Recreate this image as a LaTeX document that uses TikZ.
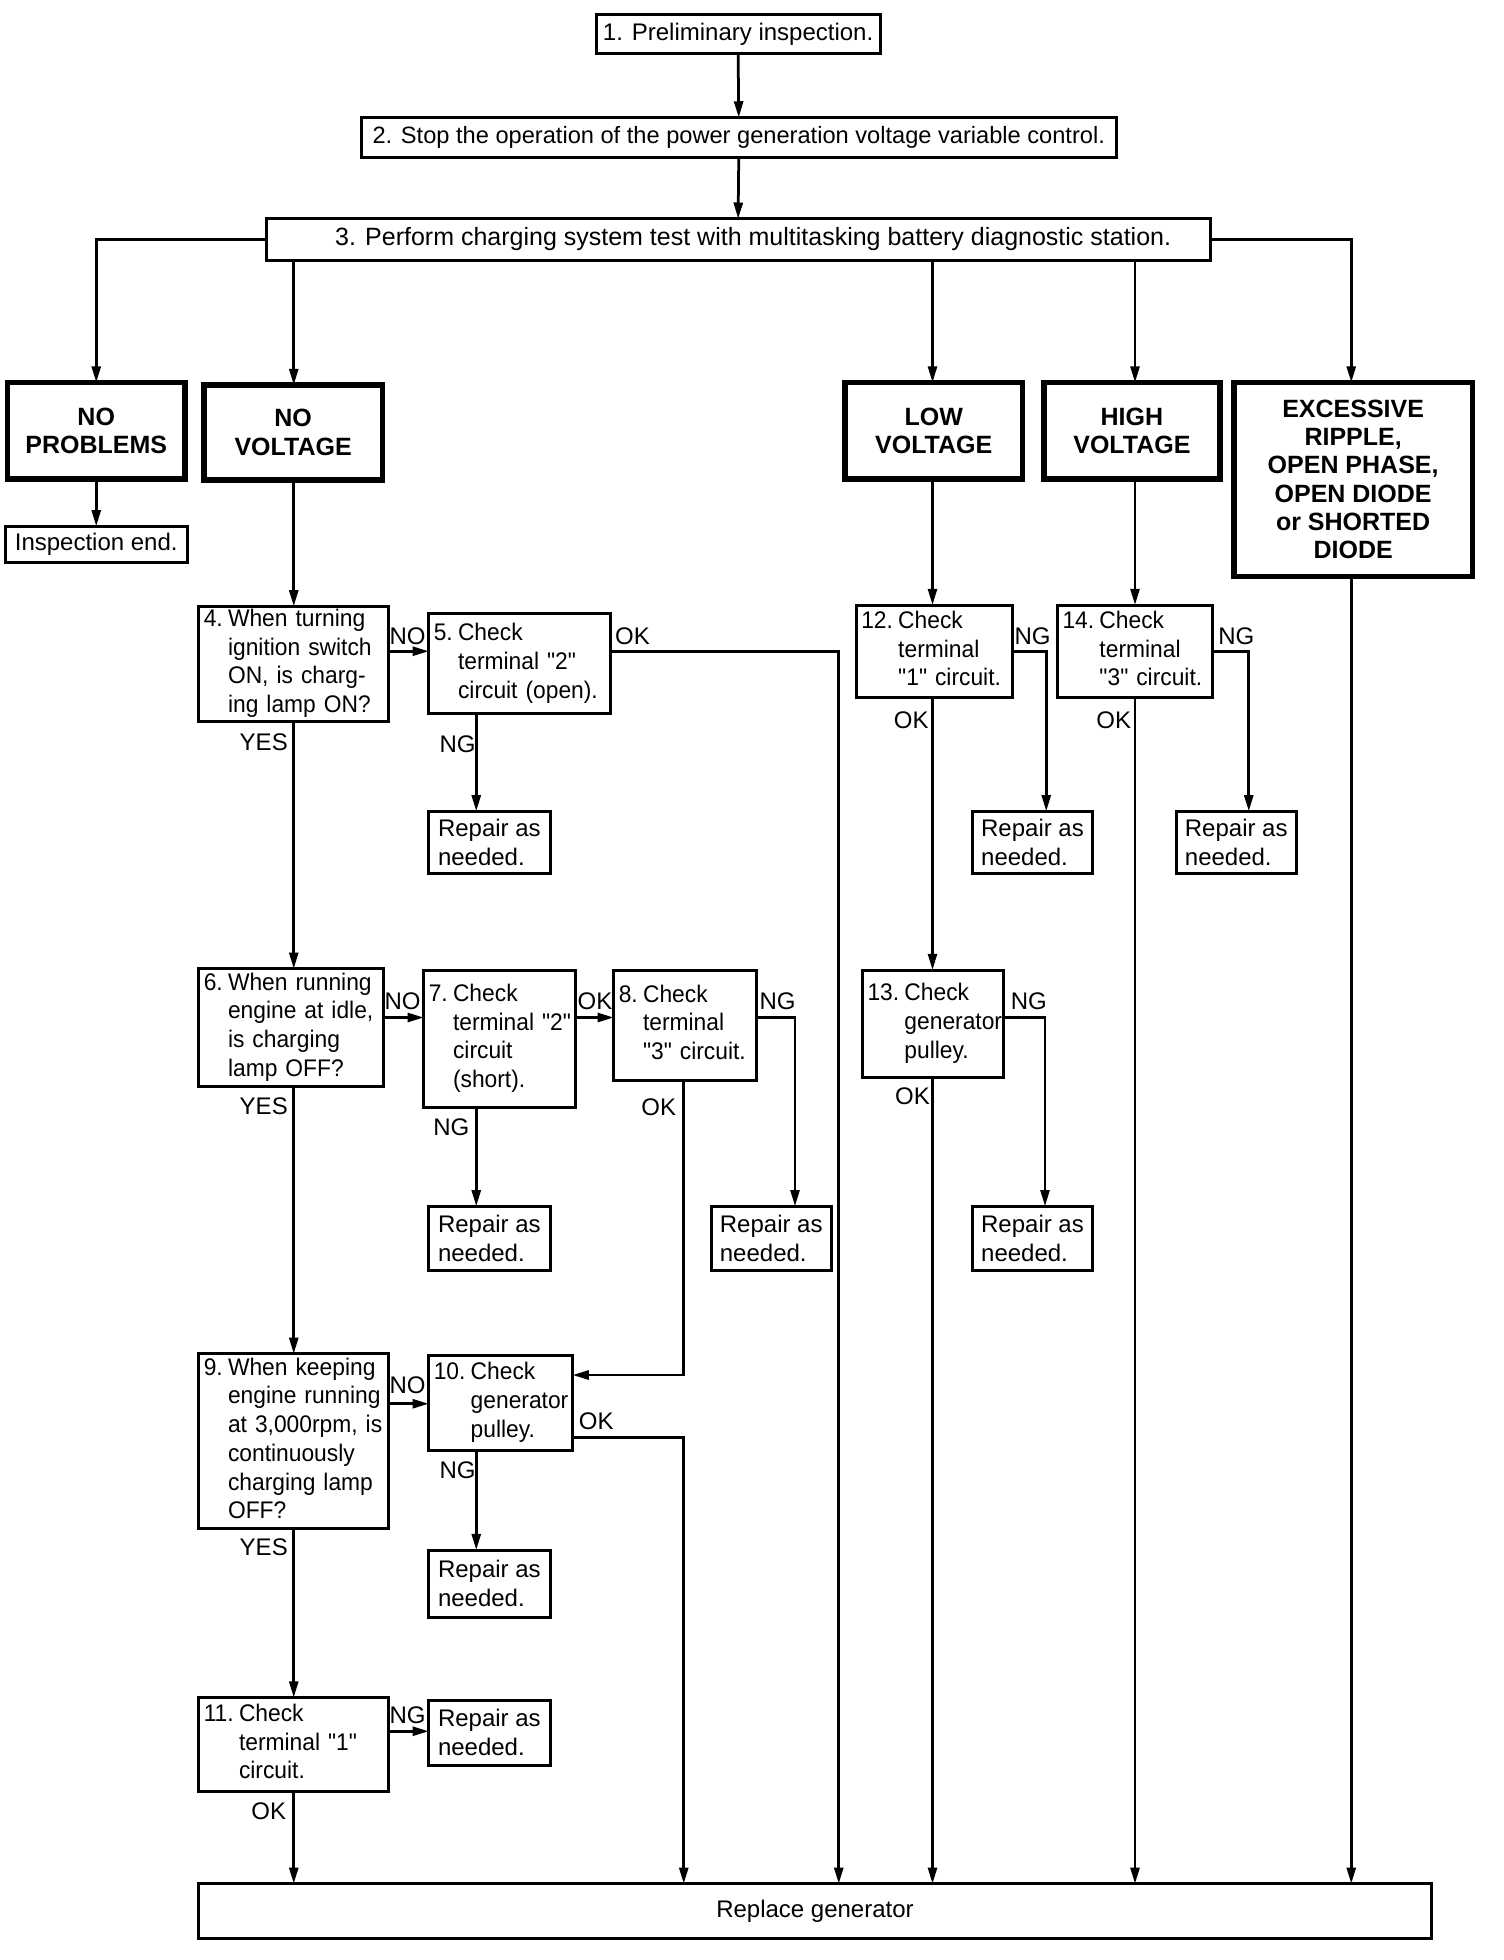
\documentclass[tikz,border=0pt]{standalone}
\usepackage{fontspec}
\setmainfont{Liberation Sans}[Ligatures=TeXOff]
\newfontfamily\narrowfont{Liberation Sans}[Ligatures=TeXOff,FakeStretch=0.95]
\usetikzlibrary{arrows.meta}
\newcommand{\numbered}[2]{\begin{tabular}{@{}l@{\hspace{0.22em}}l@{}}#1&\begin{tabular}[t]{@{}l@{}}#2\end{tabular}\end{tabular}}

\begin{document}
\begin{tikzpicture}[x=0.5pt,y=-0.5pt,
    every node/.style={font=\fontsize{9.6}{11.5}\selectfont},
    topbox/.style={draw,line width=1.2pt,anchor=north west,inner sep=0pt,outer sep=0pt},
    catbox/.style={draw,line width=2.2pt,anchor=north west,align=center,inner sep=0pt,outer sep=0pt,font=\fontsize{10}{11.3}\selectfont\bfseries},
    stepbox/.style={draw,line width=1.2pt,anchor=north west,align=left,inner xsep=2pt,inner ysep=0pt,outer sep=0pt,font=\fontsize{9.6}{11.5}\narrowfont},
    repairbox/.style={draw,line width=1.2pt,anchor=north west,align=left,inner sep=0pt,outer sep=0pt,minimum width=48.5pt},
    lbl/.style={inner sep=0pt},
    flow/.style={line width=1.1pt,-{Triangle[length=6.5pt,width=3.6pt]}}]
  \fill[white] (0,0) rectangle (1203,1568);
  \useasboundingbox (0,0) rectangle (1203,1568);

  % first steps
  \node[topbox,minimum width=113.5pt,minimum height=15.5pt] (s1) at (477,12) {1. Preliminary inspection.};
  \node[topbox,minimum width=302pt,minimum height=16pt,font=\fontsize{9.45}{11.5}\selectfont] (s2) at (289,94) {2. Stop the operation of the power generation voltage variable control.};
  \node[topbox,minimum width=377.5pt,minimum height=16.5pt,font=\fontsize{10}{12}\selectfont] (s3) at (213,175) {\hspace{12pt}3. Perform charging system test with multitasking battery diagnostic station.};

  % test results
  \node[catbox,minimum width=71pt,minimum height=38.5pt] (noprob) at (6,306) {NO\\PROBLEMS};
  \node[catbox,minimum width=71.5pt,minimum height=38pt] (novolt) at (163,308) {NO\\VOLTAGE};
  \node[catbox,minimum width=71pt,minimum height=38.5pt] (lowvolt) at (676,306) {LOW\\VOLTAGE};
  \node[catbox,minimum width=70.5pt,minimum height=38.5pt] (highvolt) at (835,306) {HIGH\\VOLTAGE};
  \node[catbox,minimum width=95.5pt,minimum height=77.5pt] (excess) at (987,306) {EXCESSIVE\\RIPPLE,\\OPEN PHASE,\\OPEN DIODE\\or SHORTED\\DIODE};
  \node[topbox,minimum width=73pt,minimum height=14.5pt] (inspend) at (4,421) {Inspection end.};

  % NO VOLTAGE branch
  \node[stepbox,text width=72pt,minimum height=46pt] (s4) at (159,485) {\numbered{4.}{When turning\\ignition switch\\ON, is charg-\\ing lamp ON?}};
  \node[stepbox,text width=68.5pt,minimum height=40pt] (s5) at (343,491) {\numbered{5.}{Check\\terminal "2"\\circuit (open).}};
  \node[repairbox,minimum height=25pt] (r5) at (343,649) {Repair as\\needed.};
  \node[stepbox,text width=70pt,minimum height=47pt] (s6) at (159,775) {\numbered{6.}{When running\\engine at idle,\\is charging\\lamp OFF?}};
  \node[stepbox,text width=56.5pt,minimum height=55pt] (s7) at (339,776) {\numbered{7.}{Check\\terminal "2"\\circuit\\(short).}};
  \node[stepbox,text width=53pt,minimum height=44pt] (s8) at (491,776) {\numbered{8.}{Check\\terminal\\"3" circuit.}};
  \node[repairbox,minimum height=25.5pt] (r7) at (343,965) {Repair as\\needed.};
  \node[repairbox,minimum width=48pt,minimum height=25.5pt] (r8) at (569,965) {Repair as\\needed.};
  \node[stepbox,text width=72pt,minimum height=70pt] (s9) at (159,1083) {\numbered{9.}{When keeping\\engine running\\at 3,000rpm, is\\continuously\\charging lamp\\OFF?}};
  \node[stepbox,text width=53.5pt,minimum height=38pt] (s10) at (343,1084) {\numbered{10.}{Check\\generator\\pulley.}};
  \node[repairbox,minimum height=27pt] (r10) at (343,1240) {Repair as\\needed.};
  \node[stepbox,text width=72pt,minimum height=37.5pt] (s11) at (159,1358) {\numbered{11.}{Check\\terminal "1"\\circuit.}};
  \node[repairbox,minimum height=26pt] (r11) at (343,1360) {Repair as\\needed.};

  % LOW and HIGH VOLTAGE branches
  \node[stepbox,text width=58.5pt,minimum height=37pt] (s12) at (685,484) {\numbered{12.}{Check\\terminal\\"1" circuit.}};
  \node[repairbox,minimum width=48pt,minimum height=25pt] (r12) at (778,649) {Repair as\\needed.};
  \node[stepbox,text width=52.5pt,minimum height=43pt] (s13) at (690,776) {\numbered{13.}{Check\\generator\\pulley.}};
  \node[repairbox,minimum width=48pt,minimum height=25.5pt] (r13) at (778,965) {Repair as\\needed.};
  \node[stepbox,text width=58pt,minimum height=37pt] (s14) at (846,484) {\numbered{14.}{Check\\terminal\\"3" circuit.}};
  \node[repairbox,minimum width=48pt,minimum height=25pt] (r14) at (941,649) {Repair as\\needed.};

  \node[topbox,minimum width=493pt,minimum height=22pt] (repl) at (159,1507) {Replace generator};

  % branch labels
  \node[lbl] (no4) at (326,509) {NO};
  \node[lbl] (ok5) at (506,509) {OK};
  \node[lbl] (ng5) at (366,595) {NG};
  \node[lbl] (yes4) at (211,594) {YES};
  \node[lbl] (no6) at (322,801) {NO};
  \node[lbl] (ok7) at (476,801) {OK};
  \node[lbl] (ng8) at (622,801) {NG};
  \node[lbl] (ok8) at (527,886) {OK};
  \node[lbl] (ng7) at (361,902) {NG};
  \node[lbl] (yes6) at (211,885) {YES};
  \node[lbl] (no9) at (326,1108) {NO};
  \node[lbl] (ok10) at (477,1137) {OK};
  \node[lbl] (ng10) at (366,1176) {NG};
  \node[lbl] (yes9) at (211,1238) {YES};
  \node[lbl] (ng11) at (326,1372) {NG};
  \node[lbl] (ok11) at (215,1449) {OK};
  \node[lbl] (ng12) at (826,509) {NG};
  \node[lbl] (ok12) at (729,576) {OK};
  \node[lbl] (ng13) at (823,801) {NG};
  \node[lbl] (ok13) at (730,877) {OK};
  \node[lbl] (ng14) at (989,509) {NG};
  \node[lbl] (ok14) at (891,576) {OK};

  % connectors
  \draw[flow] (s1.south) -- (s2.north);
  \draw[flow] (s2.south) -- (s3.north);
  \draw[flow] (s3.west) -| (noprob.north);
  \draw[flow] (s3.east) -| (1081,0 |- excess.north);
  \draw[flow] (235,0 |- s3.south) -- (235,0 |- novolt.north);
  \draw[flow] (746,0 |- s3.south) -- (746,0 |- lowvolt.north);
  \draw[flow] (908,0 |- s3.south) -- (908,0 |- highvolt.north);
  \draw[flow] (noprob.south) -- (inspend.north);
  \draw[flow] (235,0 |- novolt.south) -- (235,0 |- s4.north);

  \draw[flow] (s4.east |- 0,521) -- (s5.west |- 0,521);
  \draw[flow] (s5.east |- 0,521) -| (671,0 |- repl.north);
  \draw[flow] (381,0 |- s5.south) -- (381,0 |- r5.north);
  \draw[flow] (235,0 |- s4.south) -- (235,0 |- s6.north);
  \draw[flow] (s6.east |- 0,814) -- (s7.west |- 0,814);
  \draw[flow] (s7.east |- 0,814) -- (s8.west |- 0,814);
  \draw[flow] (s8.east |- 0,814) -| (636,0 |- r8.north);
  \draw[flow] (381,0 |- s7.south) -- (381,0 |- r7.north);
  \draw[flow] (547,0 |- s8.south) |- (s10.east |- 0,1100);
  \draw[flow] (235,0 |- s6.south) -- (235,0 |- s9.north);
  \draw[flow] (s9.east |- 0,1123) -- (s10.west |- 0,1123);
  \draw[flow] (s10.east |- 0,1150) -| (547,0 |- repl.north);
  \draw[flow] (381,0 |- s10.south) -- (381,0 |- r10.north);
  \draw[flow] (235,0 |- s9.south) -- (235,0 |- s11.north);
  \draw[flow] (s11.east |- 0,1385) -- (r11.west |- 0,1385);
  \draw[flow] (235,0 |- s11.south) -- (235,0 |- repl.north);

  \draw[flow] (746,0 |- lowvolt.south) -- (746,0 |- s12.north);
  \draw[flow] (s12.east |- 0,521) -| (837,0 |- r12.north);
  \draw[flow] (746,0 |- s12.south) -- (746,0 |- s13.north);
  \draw[flow] (s13.east |- 0,814) -| (836,0 |- r13.north);
  \draw[flow] (746,0 |- s13.south) -- (746,0 |- repl.north);
  \draw[flow] (908,0 |- highvolt.south) -- (908,0 |- s14.north);
  \draw[flow] (s14.east |- 0,521) -| (999,0 |- r14.north);
  \draw[flow] (908,0 |- s14.south) -- (908,0 |- repl.north);
  \draw[flow] (1081,0 |- excess.south) -- (1081,0 |- repl.north);
\end{tikzpicture}
\end{document}
